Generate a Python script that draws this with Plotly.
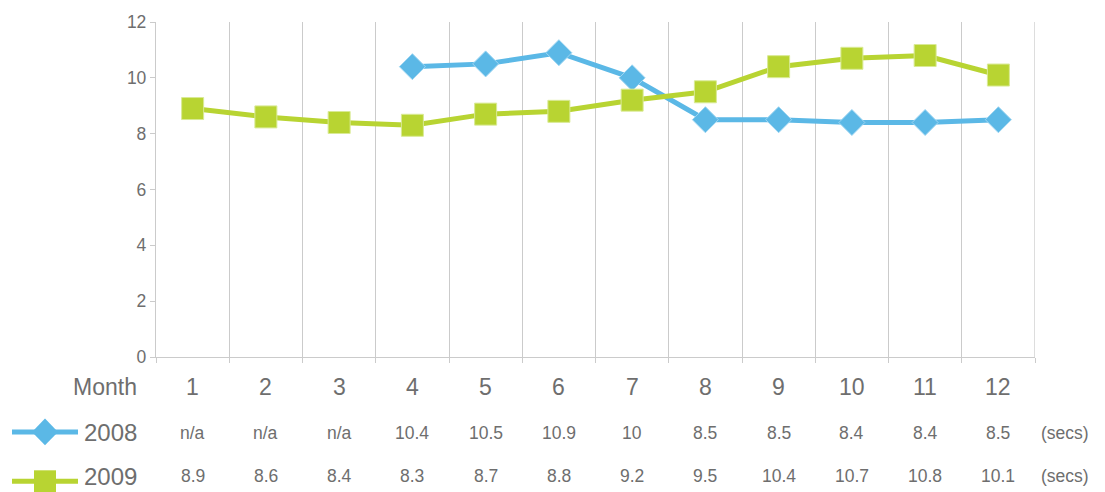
import plotly.graph_objects as go

# Monthly times (secs); None = n/a
months = [1, 2, 3, 4, 5, 6, 7, 8, 9, 10, 11, 12]
month_labels = ["1", "2", "3", "4", "5", "6", "7", "8", "9", "10", "11", "12"]
series_names = ["2008", "2009"]
values_2008 = [None, None, None, 10.4, 10.5, 10.9, 10, 8.5, 8.5, 8.4, 8.4, 8.5]
values_2009 = [8.9, 8.6, 8.4, 8.3, 8.7, 8.8, 9.2, 9.5, 10.4, 10.7, 10.8, 10.1]
unit_label = "(secs)"

BLUE = "#5BB8E6"
GREEN = "#B8D432"
GRID = "#CBCBCB"
TEXT = "#6E6E6E"
FONT = "Liberation Sans"

W, H = 1105, 492
ML, MR, MT, MB = 156, 70, 17, 135
PW, PH = W - ML - MR, H - MT - MB


def px(x):
    return (x - ML) / PW


def py(y):
    return (H - MB - y) / PH


fig = go.Figure()
fig.add_trace(go.Scatter(
    x=months, y=values_2008, mode="lines+markers", name=series_names[0],
    line=dict(color=BLUE, width=5),
    marker=dict(symbol="diamond", size=20, color=BLUE, line=dict(width=1, color="#9fd6f2")),
    connectgaps=False, cliponaxis=False,
))
fig.add_trace(go.Scatter(
    x=months, y=values_2009, mode="lines+markers", name=series_names[1],
    line=dict(color=GREEN, width=5),
    marker=dict(symbol="square", size=22, color=GREEN, line=dict(width=1, color="#d9ea95")),
    cliponaxis=False,
))

annotations = []
# Month header row
annotations.append(dict(x=px(139), y=py(387), xref="paper", yref="paper", text="Month",
                        xanchor="right", yanchor="middle", showarrow=False,
                        font=dict(family=FONT, size=23, color=TEXT)))
for m, lab in zip(months, month_labels):
    annotations.append(dict(x=m, y=py(387), xref="x", yref="paper", text=lab,
                            xanchor="center", yanchor="middle", showarrow=False,
                            font=dict(family=FONT, size=23, color=TEXT)))

# Data table rows
for name, vals, row_y in [(series_names[0], values_2008, 434), (series_names[1], values_2009, 478)]:
    annotations.append(dict(x=px(82), y=py(row_y), xref="paper", yref="paper", text=name,
                            xanchor="left", yanchor="middle", showarrow=False,
                            font=dict(family=FONT, size=24, color=TEXT)))
    for m, v in zip(months, vals):
        annotations.append(dict(x=m, y=py(row_y), xref="x", yref="paper",
                                text="n/a" if v is None else f"{v:g}",
                                xanchor="center", yanchor="middle", showarrow=False,
                                font=dict(family=FONT, size=17.5, color=TEXT)))
    annotations.append(dict(x=px(1039), y=py(row_y), xref="paper", yref="paper", text=unit_label,
                            xanchor="left", yanchor="middle", showarrow=False,
                            font=dict(family=FONT, size=17.5, color=TEXT)))

# Legend samples drawn beside the table rows
shapes = []
ly1, ly2 = 433, 483
shapes.append(dict(type="line", xref="paper", yref="paper", x0=px(12), x1=px(78),
                   y0=py(ly1), y1=py(ly1), line=dict(color=BLUE, width=5)))
cx, hw, hh = 45, 13, 13.5
shapes.append(dict(type="path", xref="paper", yref="paper",
                   path=f"M {px(cx - hw)},{py(ly1)} L {px(cx)},{py(ly1 - hh)} L {px(cx + hw)},{py(ly1)} L {px(cx)},{py(ly1 + hh)} Z",
                   fillcolor=BLUE, line=dict(width=0)))
shapes.append(dict(type="line", xref="paper", yref="paper", x0=px(12), x1=px(78),
                   y0=py(ly2), y1=py(ly2), line=dict(color=GREEN, width=5)))
shapes.append(dict(type="rect", xref="paper", yref="paper", x0=px(34), x1=px(56),
                   y0=py(ly2 + 11), y1=py(ly2 - 11), fillcolor=GREEN, line=dict(width=0)))
# right boundary gridline
shapes.append(dict(type="line", xref="x", yref="paper", x0=12.5, x1=12.5, y0=0, y1=1,
                   line=dict(color=GRID, width=1.3), layer="below"))

fig.update_layout(
    width=W, height=H,
    margin=dict(l=ML, r=MR, t=MT, b=MB),
    paper_bgcolor="white", plot_bgcolor="white",
    showlegend=False,
    annotations=annotations,
    shapes=shapes,
    xaxis=dict(range=[0.5, 12.5], tickvals=[i + 0.5 for i in range(13)],
               showticklabels=False, showgrid=True, gridcolor=GRID, gridwidth=1.3,
               ticks="outside", ticklen=5, tickcolor=GRID, showline=True,
               linecolor=GRID, linewidth=1.3, zeroline=False, fixedrange=True),
    yaxis=dict(range=[0, 12], dtick=2, showgrid=False, zeroline=False,
               ticks="outside", ticklen=5, tickcolor=GRID, showline=True,
               linecolor=GRID, linewidth=1.3,
               tickfont=dict(family=FONT, size=17.5, color=TEXT), fixedrange=True),
)

fig.write_html("out.html")
